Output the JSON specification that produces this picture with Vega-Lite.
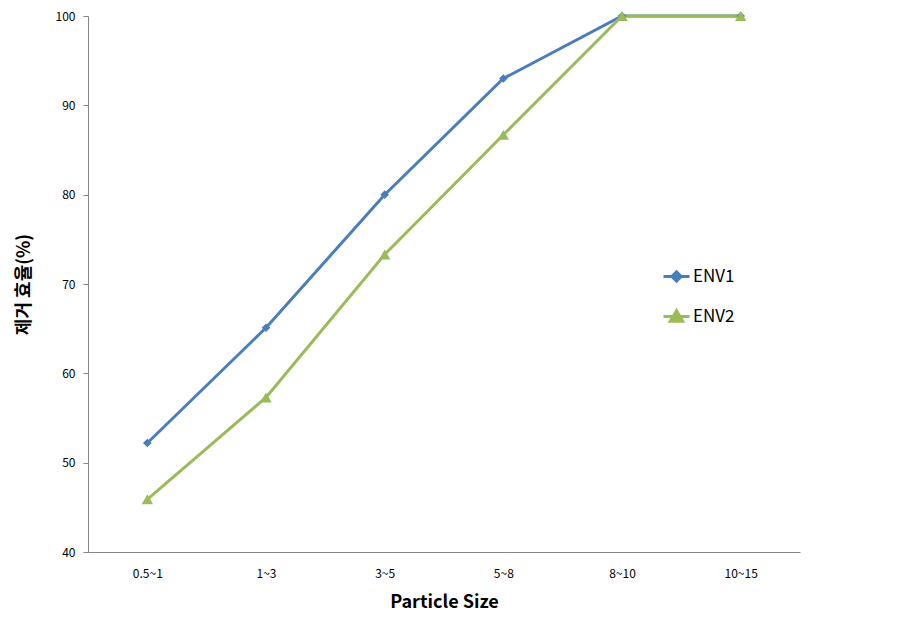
{
  "$schema": "https://vega.github.io/schema/vega-lite/v6.json",
  "width": 712,
  "height": 536,
  "autosize": {"type": "none"},
  "padding": {"left": 88, "top": 16, "right": 110, "bottom": 82},
  "background": "white",
  "config": {
    "view": {"stroke": null},
    "font": "Noto Sans CJK KR",
    "axis": {"grid": false, "domainColor": "#868686", "tickColor": "#868686", "labelColor": "#000000", "titleColor": "#000000"}
  },
  "data": {
    "values": [
      {"size": "0.5~1", "series": "ENV1", "value": 52.2},
      {"size": "1~3", "series": "ENV1", "value": 65.1},
      {"size": "3~5", "series": "ENV1", "value": 80.0},
      {"size": "5~8", "series": "ENV1", "value": 93.0},
      {"size": "8~10", "series": "ENV1", "value": 100},
      {"size": "10~15", "series": "ENV1", "value": 100},
      {"size": "0.5~1", "series": "ENV2", "value": 45.9},
      {"size": "1~3", "series": "ENV2", "value": 57.3},
      {"size": "3~5", "series": "ENV2", "value": 73.3},
      {"size": "5~8", "series": "ENV2", "value": 86.7},
      {"size": "8~10", "series": "ENV2", "value": 100},
      {"size": "10~15", "series": "ENV2", "value": 100}
    ]
  },
  "encoding": {
    "x": {
      "field": "size", "type": "ordinal", "sort": null,
      "scale": {"type": "point", "padding": 0.5},
      "axis": {"title": "Particle Size", "labelAngle": 0, "ticks": false, "labelPadding": 16, "labelFontSize": 12, "titleFontSize": 18, "titleFontWeight": "bold", "titlePadding": 14}
    },
    "y": {
      "field": "value", "type": "quantitative",
      "scale": {"domain": [40, 100], "nice": false, "zero": false},
      "axis": {"title": "제거 효율(%)", "values": [40, 50, 60, 70, 80, 90, 100], "tickSize": 5, "labelPadding": 8, "labelFontSize": 12, "titleFontSize": 18, "titleFontWeight": "bold", "titlePadding": 22}
    },
    "color": {
      "field": "series", "type": "nominal",
      "scale": {"domain": ["ENV1", "ENV2"], "range": ["#4A7EBB", "#9BBB59"]},
      "legend": {
        "title": null, "orient": "none", "legendX": 574, "legendY": 246,
        "symbolSize": 676, "symbolStrokeWidth": 3, "labelFontSize": 17, "labelOffset": 2, "rowPadding": 14,
        "encode": {
          "symbols": {
            "update": {
              "shape": {"signal": "datum.value === 'ENV1' ? 'M-1,0H1M0,-0.36L0.36,0L0,0.36L-0.36,0Z' : 'M-1,0H1M0,-0.44L0.48,0.36L-0.48,0.36Z'"},
              "fill": {"signal": "datum.value === 'ENV1' ? '#4A7EBB' : '#9BBB59'"},
              "stroke": {"signal": "datum.value === 'ENV1' ? '#4A7EBB' : '#9BBB59'"},
              "strokeWidth": {"value": 3},
              "opacity": {"value": 1}
            }
          }
        }
      }
    }
  },
  "layer": [
    {"mark": {"type": "line", "strokeWidth": 3}},
    {
      "transform": [{"filter": "datum.series === 'ENV1'"}],
      "mark": {"type": "point", "filled": true, "opacity": 1, "shape": "diamond", "size": 75}
    },
    {
      "transform": [{"filter": "datum.series === 'ENV2'"}],
      "mark": {"type": "point", "filled": true, "opacity": 1, "shape": "triangle-up", "size": 130}
    }
  ]
}
